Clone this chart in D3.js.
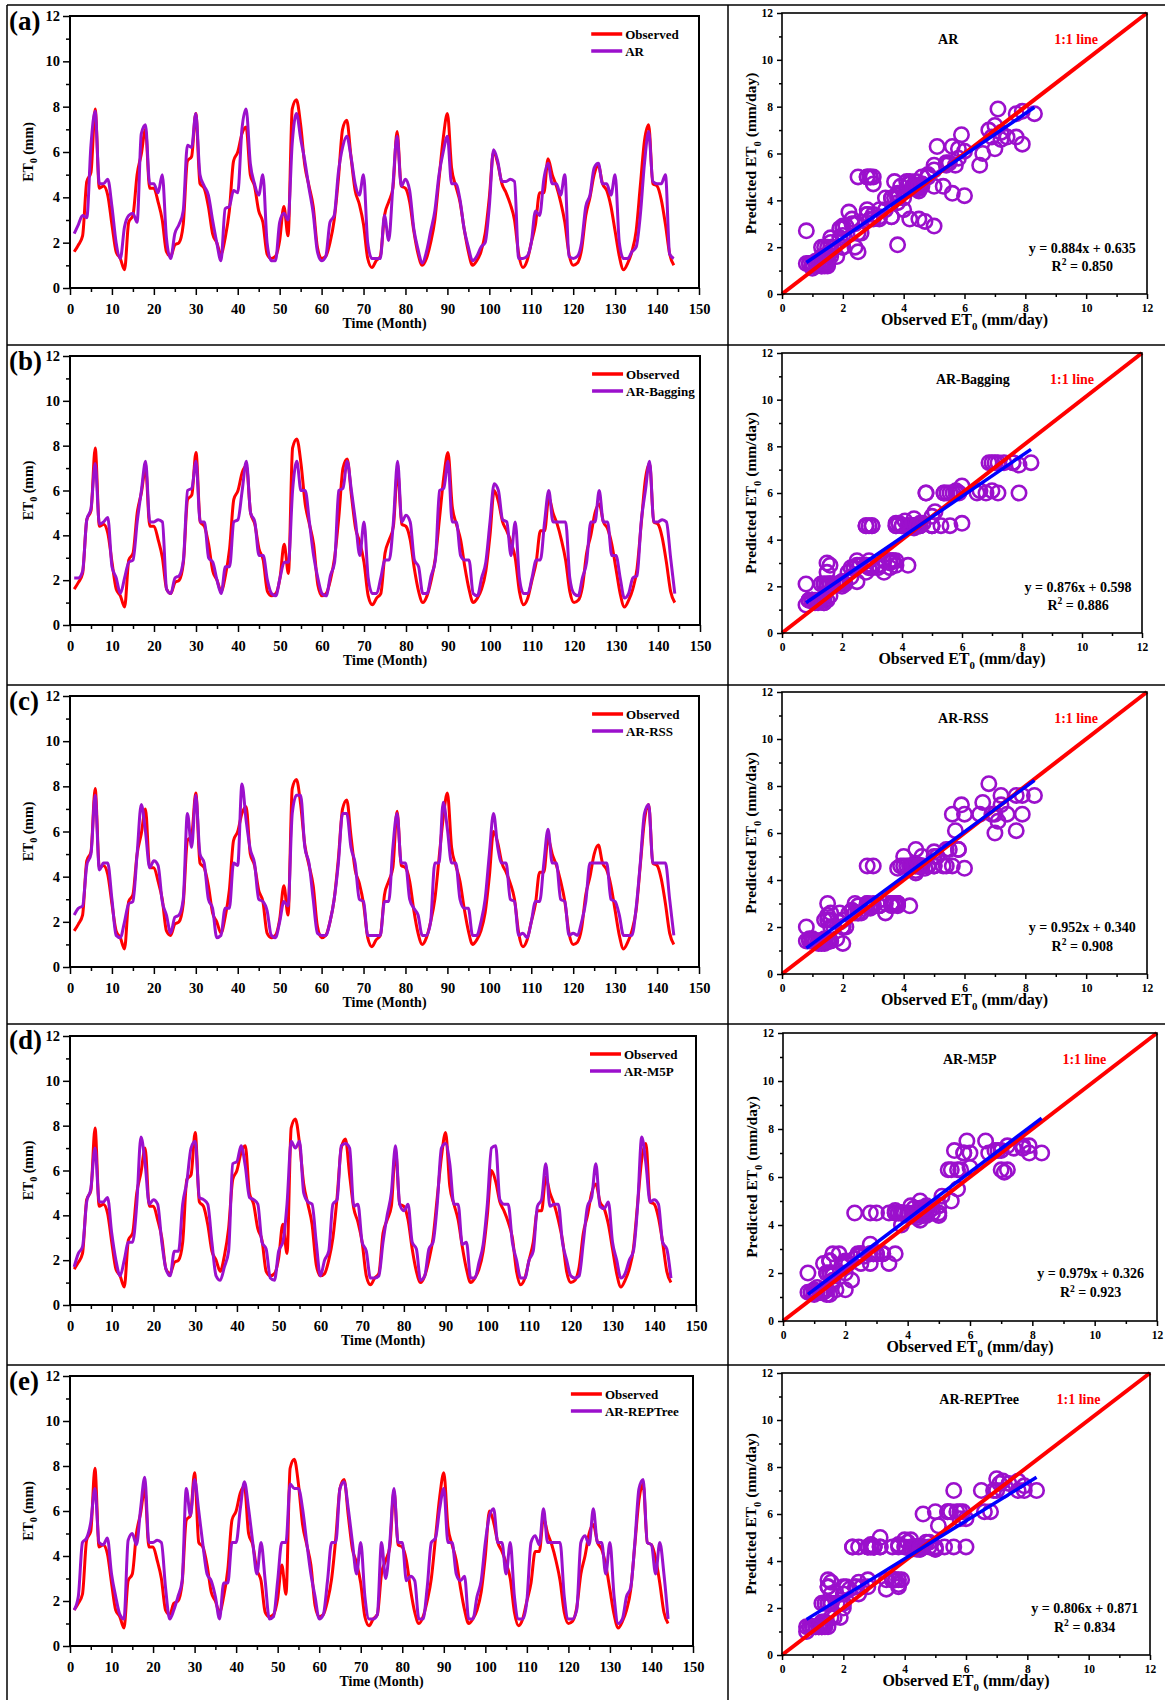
<!DOCTYPE html>
<html>
<head>
<meta charset="utf-8">
<script src="https://cdn.jsdelivr.net/npm/d3@7"></script>
<style>
  body { margin: 0; background: #fff; }
  svg { display: block; }
  text { font-family: "Liberation Serif", "Times New Roman", serif; font-weight: bold; fill: #000; }
</style>
</head>
<body>
<svg id="fig" width="1165" height="1700"></svg>
<script>
// ---------------- data ----------------
// Monthly reference evapotranspiration ET0 (mm), 144 months
const observed = [
  1.6,1.9,2.3,4.7,5.1,7.9,4.4,4.5,4.1,2.8,1.6,1.3,
  0.8,2.9,3.2,5.0,5.9,7.0,4.4,4.4,3.8,3.0,1.6,1.4,
  1.9,2.0,2.8,5.6,5.8,7.7,4.6,4.4,3.6,2.4,2.0,1.5,
  2.2,3.4,5.6,6.0,6.8,7.1,5.0,4.5,3.4,2.9,1.5,1.3,
  1.4,2.1,3.6,2.3,7.9,8.3,7.2,5.4,4.5,3.6,1.8,1.3,
  1.4,2.0,3.0,4.8,7.0,7.4,5.8,4.3,3.7,2.8,1.3,0.9,
  1.2,1.4,3.2,3.8,4.4,6.9,4.5,4.4,3.8,2.5,1.5,1.0,
  1.3,2.0,3.0,4.8,6.6,7.7,5.3,4.5,3.8,2.6,1.6,1.0,
  1.2,1.6,2.4,4.0,6.0,5.5,4.6,4.2,3.7,3.0,1.5,0.9,
  1.2,2.0,2.8,4.2,4.2,5.7,5.0,4.5,3.8,2.9,1.5,1.0,
  1.1,1.7,3.2,4.0,5.0,5.4,4.6,4.3,3.6,2.5,1.4,0.8,
  1.1,1.6,2.5,4.5,6.5,7.2,4.6,4.5,3.9,2.8,1.5,1.0
];

const predAR = [
  2.4,2.8,3.2,3.1,6.3,7.8,4.6,4.6,4.8,3.6,2.0,1.3,
  2.7,3.2,3.3,2.9,6.8,7.2,4.6,4.6,4.2,5.0,2.2,1.3,
  2.4,2.8,3.4,6.3,6.2,7.7,5.0,4.5,4.1,3.0,2.0,1.2,
  3.5,3.6,4.3,4.2,7.0,7.9,5.5,4.6,4.1,5.0,2.0,1.2,
  1.2,2.9,3.3,3.0,6.4,7.7,6.6,5.6,4.4,3.3,1.6,1.2,
  1.4,2.9,3.2,5.1,6.2,6.7,5.8,4.6,4.1,5.0,2.0,1.3,
  1.3,1.3,3.2,2.1,4.5,6.7,4.5,4.8,4.3,2.6,1.7,1.1,
  1.6,2.5,3.4,5.0,6.0,6.7,4.6,4.6,3.9,2.6,1.8,1.2,
  1.4,1.8,2.0,3.6,6.1,5.6,4.7,4.7,4.8,4.7,1.3,1.3,
  1.4,2.0,3.4,3.2,4.8,5.5,4.6,4.6,4.1,5.0,1.4,1.3,
  1.4,2.0,3.6,4.1,5.3,5.5,4.6,4.6,4.1,5.0,2.0,1.3,
  1.3,1.6,1.8,3.2,5.5,6.9,4.7,4.6,4.6,5.0,1.5,1.3
];

const predBagging = [
  2.1,2.1,2.4,4.7,5.2,7.2,4.5,4.6,4.8,2.6,2.1,1.4,
  2.1,2.8,2.9,4.6,6.0,7.3,4.6,4.6,4.7,4.6,1.6,1.4,
  2.1,2.2,2.9,6.0,6.1,7.3,4.6,4.6,3.0,2.8,2.0,1.4,
  2.6,2.6,4.6,4.7,6.0,7.3,5.0,4.6,3.1,3.1,2.0,1.4,
  1.3,2.1,2.8,2.8,6.0,7.3,6.0,6.0,4.6,3.1,2.1,1.4,
  1.3,2.2,2.8,6.0,6.1,7.3,6.0,4.6,3.1,4.6,2.1,1.4,
  1.4,2.1,2.9,2.9,4.6,7.3,4.6,4.9,4.6,2.9,2.6,1.4,
  1.4,2.2,2.9,6.0,6.1,7.3,4.6,4.6,3.1,2.9,2.9,1.4,
  1.3,2.1,2.8,4.6,6.3,6.0,4.7,4.6,3.1,4.6,2.1,1.4,
  1.4,2.1,2.9,2.9,4.6,6.0,4.6,4.6,4.6,4.6,2.1,1.4,
  1.3,2.1,2.8,4.6,4.6,6.0,4.6,4.6,3.1,3.1,2.1,1.2,
  1.4,2.1,2.2,4.6,6.0,7.3,4.6,4.6,4.7,4.6,3.0,1.4
];

const predRSS = [
  2.3,2.6,2.7,4.5,5.0,7.6,4.3,4.6,4.6,3.0,1.4,1.3,
  2.0,2.8,2.9,5.0,7.2,6.0,4.4,4.7,4.5,2.9,2.3,1.5,
  2.2,2.3,3.0,6.8,5.3,7.6,5.0,4.6,3.0,2.6,1.3,1.4,
  2.6,2.6,4.6,4.5,8.1,6.5,5.2,4.6,3.0,2.9,2.5,1.4,
  1.3,2.0,2.9,2.7,6.8,7.6,7.6,5.3,4.6,3.0,1.5,1.4,
  1.4,2.0,3.0,4.6,6.8,6.8,5.3,4.6,3.0,2.9,1.4,1.4,
  1.4,1.4,2.9,2.9,5.3,6.8,4.6,4.6,3.0,2.6,2.3,1.4,
  1.4,2.0,4.6,4.6,7.3,6.1,4.6,4.6,3.0,2.6,2.6,1.4,
  1.4,2.0,3.0,5.0,6.8,5.3,4.6,4.6,3.0,2.9,1.4,1.5,
  1.3,2.0,2.9,2.9,4.6,6.1,4.6,4.6,3.0,2.9,1.4,1.5,
  1.4,2.0,2.9,4.6,4.6,4.6,4.6,4.6,3.0,2.9,2.3,1.4,
  1.4,1.4,2.6,4.6,6.8,7.2,4.6,4.6,4.6,4.6,3.0,1.4
];

const predM5P = [
  1.7,2.3,2.6,4.6,5.2,7.0,4.6,4.6,4.8,3.2,2.0,1.3,
  2.0,2.8,2.8,4.5,7.5,6.3,4.5,4.7,4.5,2.8,1.6,1.3,
  2.4,2.4,4.5,5.5,7.0,7.3,4.8,4.7,4.5,2.8,1.3,1.1,
  1.7,2.4,6.3,6.4,7.1,6.2,4.8,4.7,4.5,2.8,2.5,1.2,
  1.1,2.4,2.8,4.5,7.3,7.0,7.3,5.0,4.6,4.5,2.8,1.3,
  2.0,2.4,4.5,4.7,7.1,7.2,7.0,4.4,4.5,2.8,2.4,1.2,
  1.2,1.3,2.8,4.0,5.0,7.1,4.5,4.2,4.5,2.8,2.5,1.1,
  1.3,2.5,2.8,4.5,7.0,7.2,6.3,4.5,4.5,2.7,2.8,1.2,
  1.2,1.9,2.7,4.5,7.0,7.1,4.7,4.5,4.5,2.8,2.0,1.2,
  1.2,2.0,2.4,4.4,4.7,6.3,4.4,4.5,4.5,2.8,2.0,1.3,
  1.2,1.3,2.8,4.4,4.8,6.3,4.4,4.3,4.6,2.8,2.0,1.2,
  1.4,2.0,2.4,4.4,7.5,6.3,4.6,4.7,4.5,2.8,2.5,1.2
];

const predREPTree = [
  1.6,2.2,4.6,4.8,5.5,7.0,4.6,4.5,4.8,3.2,2.2,1.4,
  1.2,4.7,5.0,4.5,6.1,7.5,4.6,4.6,4.7,4.6,2.6,1.2,
  1.6,2.2,2.9,7.0,5.8,7.4,6.0,4.5,3.2,2.9,2.2,1.2,
  2.8,2.8,4.6,4.6,6.1,7.3,6.1,4.6,3.2,4.6,2.9,1.2,
  1.3,2.9,4.6,4.6,7.2,7.0,7.0,6.1,4.6,3.2,2.2,1.2,
  1.4,2.9,4.6,4.6,7.0,7.3,6.1,4.6,3.2,4.6,2.2,1.2,
  1.2,1.4,4.6,3.0,4.6,7.0,4.6,4.6,2.9,3.1,2.9,1.2,
  1.2,2.6,4.6,4.8,6.1,7.0,4.6,4.6,3.2,2.9,3.1,1.2,
  1.2,2.2,2.9,4.6,5.8,6.1,4.6,4.6,3.2,4.6,2.2,1.2,
  1.2,2.0,4.6,4.9,4.5,6.1,4.6,4.6,4.6,4.6,2.2,1.2,
  1.2,1.6,4.6,4.9,4.5,6.1,4.6,4.6,3.2,4.6,2.2,1.0,
  1.2,2.2,2.6,4.6,7.0,7.4,4.6,4.5,3.2,4.6,3.2,1.2
];

const panelLetters = ["(a)", "(b)", "(c)", "(d)", "(e)"];
const modelNames = ["AR", "AR-Bagging", "AR-RSS", "AR-M5P", "AR-REPTree"];
const predictions = [predAR, predBagging, predRSS, predM5P, predREPTree];
const fitSlopes = [0.884, 0.876, 0.952, 0.979, 0.806];
const fitIntercepts = [0.635, 0.598, 0.340, 0.326, 0.871];
const fitR2 = [0.850, 0.886, 0.908, 0.923, 0.834];

const timeTicks = [0, 10, 20, 30, 40, 50, 60, 70, 80, 90, 100, 110, 120, 130, 140, 150];
const etTicks = [0, 2, 4, 6, 8, 10, 12];

// ---------------- layout ----------------
const RED = "#ff0000", PURPLE = "#9b10cc", BLUE = "#0000ff";
const rowTops = [5, 345, 685, 1024, 1365];
const lineBoxes = [
  { l: 70, r: 699, t: 16,   b: 288 },
  { l: 70, r: 700, t: 356,  b: 625 },
  { l: 70, r: 699, t: 696,  b: 967 },
  { l: 70, r: 696, t: 1036, b: 1305 },
  { l: 70, r: 693, t: 1376, b: 1646 }
];
const scatterBoxes = [
  { l: 782, r: 1147, t: 13,   b: 294 },
  { l: 782, r: 1142, t: 353,  b: 633 },
  { l: 782, r: 1147, t: 692,  b: 974 },
  { l: 783, r: 1157, t: 1033, b: 1321 },
  { l: 782, r: 1150, t: 1373, b: 1655 }
];
const legendStartMonth = [124.3, 124.3, 124.5, 124.6, 120.6];

const svg = d3.select("#fig");

// panel grid lines
const grid = svg.append("g").attr("stroke", "#000").attr("stroke-width", 1.5);
rowTops.forEach(y => grid.append("line").attr("x1", 7).attr("x2", 1165).attr("y1", y).attr("y2", y));
[7, 728].forEach(x => grid.append("line").attr("x1", x).attr("x2", x).attr("y1", 5).attr("y2", 1700));

// text with a subscript/superscript piece
function richText(sel, parts, size) {
  parts.forEach(p => {
    const ts = sel.append("tspan").text(p.t);
    if (p.sub) ts.attr("font-size", size * 0.68).attr("dy", size * 0.3);
    else if (p.sup) ts.attr("font-size", size * 0.68).attr("dy", -size * 0.4);
    if (p.back) ts.attr("dy", p.back);
  });
  return sel;
}

function styleAxis(g, fontSize) {
  g.select(".domain").remove();
  g.selectAll(".tick line").attr("stroke", "#000").attr("stroke-width", 1.5);
  g.selectAll("text").attr("font-size", fontSize).attr("fill", "#000")
    .attr("font-family", "'Liberation Serif', 'Times New Roman', serif").attr("font-weight", "bold");
}

function drawAxes(g, x, y, box, opt) {
  const minorX = d3.range(opt.xMinorStep, opt.xMax, opt.xMajorStep);
  const minorY = d3.range(opt.yMinorStep, opt.yMax, opt.yMajorStep);
  g.append("g").attr("transform", `translate(0,${box.b})`)
    .call(d3.axisBottom(x).tickValues(minorX).tickSize(opt.minor).tickFormat(""))
    .call(s => styleAxis(s, opt.font));
  g.append("g").attr("transform", `translate(0,${box.b})`)
    .call(d3.axisBottom(x).tickValues(opt.xTicks).tickSize(opt.major).tickPadding(opt.padX).tickFormat(d3.format("d")))
    .call(s => styleAxis(s, opt.font));
  g.append("g").attr("transform", `translate(${box.l},0)`)
    .call(d3.axisLeft(y).tickValues(minorY).tickSize(opt.minor).tickFormat(""))
    .call(s => styleAxis(s, opt.font));
  g.append("g").attr("transform", `translate(${box.l},0)`)
    .call(d3.axisLeft(y).tickValues(opt.yTicks).tickSize(opt.major).tickPadding(opt.padY).tickFormat(d3.format("d")))
    .call(s => styleAxis(s, opt.font));
  g.append("rect").attr("x", box.l).attr("y", box.t)
    .attr("width", box.r - box.l).attr("height", box.b - box.t)
    .attr("fill", "none").attr("stroke", "#000").attr("stroke-width", opt.frame);
}

modelNames.forEach((name, i) => {
  const pred = predictions[i];
  const months = observed.map((_, k) => k + 1);

  // ---------- time series panel ----------
  const lb = lineBoxes[i];
  const g = svg.append("g");
  const x = d3.scaleLinear().domain([0, 150]).range([lb.l, lb.r]);
  const y = d3.scaleLinear().domain([0, 12]).range([lb.b, lb.t]);

  const line = d3.line().x((d, k) => x(months[k])).y(d => y(d)).curve(d3.curveMonotoneX);
  g.append("path").datum(observed).attr("d", line)
    .attr("fill", "none").attr("stroke", RED).attr("stroke-width", 3).attr("stroke-linejoin", "round");
  g.append("path").datum(pred).attr("d", line)
    .attr("fill", "none").attr("stroke", PURPLE).attr("stroke-width", 3).attr("stroke-linejoin", "round");

  drawAxes(g, x, y, lb, {
    xTicks: timeTicks, yTicks: etTicks, xMax: 150, yMax: 12,
    xMajorStep: 10, xMinorStep: 5, yMajorStep: 2, yMinorStep: 1,
    major: 7, minor: 4, padX: 9, padY: 3, font: 14.5, frame: 2
  });

  g.append("text").attr("x", (lb.l + lb.r) / 2).attr("y", lb.b + 40)
    .attr("text-anchor", "middle").attr("font-size", 14).text("Time (Month)");
  richText(g.append("text")
    .attr("transform", `translate(33,${(lb.t + lb.b) / 2}) rotate(-90)`)
    .attr("text-anchor", "middle").attr("font-size", 14),
    [{ t: "ET" }, { t: "0", sub: true }, { t: " (mm)", back: -14 * 0.3 }], 14);

  g.append("text").attr("x", 9).attr("y", rowTops[i] + 25)
    .attr("font-size", 27).text(panelLetters[i]);

  // legend
  const lx0 = x(legendStartMonth[i]), lx1 = lx0 + 31;
  [["Observed", RED], [name, PURPLE]].forEach(([label, col], k) => {
    const ly = lb.t + 18 + k * 17;
    g.append("line").attr("x1", lx0).attr("x2", lx1).attr("y1", ly).attr("y2", ly)
      .attr("stroke", col).attr("stroke-width", 3.5);
    g.append("text").attr("x", lx1 + 3).attr("y", ly + 4.5).attr("font-size", 13).text(label);
  });

  // ---------- scatter panel ----------
  const sb = scatterBoxes[i];
  const s = svg.append("g");
  const sx = d3.scaleLinear().domain([0, 12]).range([sb.l, sb.r]);
  const sy = d3.scaleLinear().domain([0, 12]).range([sb.b, sb.t]);

  s.append("g").selectAll("circle").data(observed).join("circle")
    .attr("cx", d => sx(d)).attr("cy", (d, k) => sy(pred[k])).attr("r", 7.2)
    .attr("fill", "none").attr("stroke", PURPLE).attr("stroke-width", 2.6);

  s.append("line").attr("x1", sx(0)).attr("y1", sy(0)).attr("x2", sx(12)).attr("y2", sy(12))
    .attr("stroke", RED).attr("stroke-width", 4);

  const [oMin, oMax] = d3.extent(observed);
  s.append("line")
    .attr("x1", sx(oMin)).attr("y1", sy(fitSlopes[i] * oMin + fitIntercepts[i]))
    .attr("x2", sx(oMax)).attr("y2", sy(fitSlopes[i] * oMax + fitIntercepts[i]))
    .attr("stroke", BLUE).attr("stroke-width", 3.5);

  drawAxes(s, sx, sy, sb, {
    xTicks: etTicks, yTicks: etTicks, xMax: 12, yMax: 12,
    xMajorStep: 2, xMinorStep: 1, yMajorStep: 2, yMinorStep: 1,
    major: 5, minor: 3, padX: 5, padY: 4, font: 11.5, frame: 1.6
  });

  richText(s.append("text").attr("x", (sb.l + sb.r) / 2).attr("y", sb.b + 31)
    .attr("text-anchor", "middle").attr("font-size", 16),
    [{ t: "Observed ET" }, { t: "0", sub: true }, { t: " (mm/day)", back: -16 * 0.3 }], 16);
  richText(s.append("text")
    .attr("transform", `translate(${sb.l - 26},${(sb.t + sb.b) / 2}) rotate(-90)`)
    .attr("text-anchor", "middle").attr("font-size", 15.5),
    [{ t: "Predicted ET" }, { t: "0", sub: true }, { t: " (mm/day)", back: -15.5 * 0.3 }], 15.5);

  s.append("text").attr("x", sx(5.13)).attr("y", sy(10.9) + 5)
    .attr("font-size", 14).text(name);
  s.append("text").attr("x", sx(9.67)).attr("y", sy(10.9) + 5)
    .attr("text-anchor", "middle").attr("font-size", 14).attr("fill", RED).style("fill", RED).text("1:1 line");
  s.append("text").attr("x", sx(9.87)).attr("y", sy(1.98) + 5)
    .attr("text-anchor", "middle").attr("font-size", 14)
    .text(`y = ${fitSlopes[i].toFixed(3)}x + ${fitIntercepts[i].toFixed(3)}`);
  richText(s.append("text").attr("x", sx(9.87)).attr("y", sy(1.2) + 5)
    .attr("text-anchor", "middle").attr("font-size", 14),
    [{ t: "R" }, { t: "2", sup: true }, { t: " = " + fitR2[i].toFixed(3), back: 14 * 0.4 }], 14);
});
</script>
</body>
</html>
